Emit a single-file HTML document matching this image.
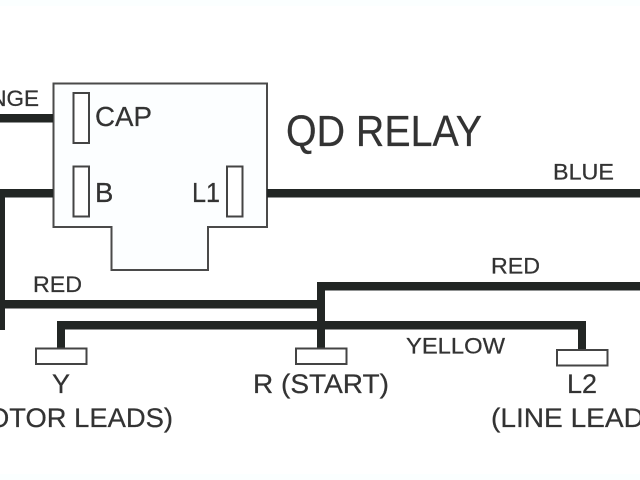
<!DOCTYPE html>
<html>
<head>
<meta charset="utf-8">
<style>
html,body{margin:0;padding:0;background:#fff;width:640px;height:480px;overflow:hidden}
svg{display:block}
text{font-family:"Liberation Sans",sans-serif;fill:#333;stroke:#333;stroke-width:.25}
</style>
</head>
<body>
<svg width="640" height="480" viewBox="0 0 640 480" xmlns="http://www.w3.org/2000/svg">
<rect width="640" height="480" fill="#ffffff"/>
<rect width="640" height="6" fill="#fbffff"/>
<rect y="474" width="640" height="6" fill="#fbffff"/>

<!-- Relay body -->
<path d="M53.5 83.5H267V227H208V270H111.500V227H53.500Z" fill="#fcfeff" stroke="#4a4a4a" stroke-width="2"/>
<rect x="73.500" y="93" width="15.500" height="50" fill="#fff" stroke="#444" stroke-width="2"/>
<rect x="73.500" y="166.500" width="15.500" height="50" fill="#fff" stroke="#444" stroke-width="2"/>
<rect x="227" y="166.500" width="15.500" height="50" fill="#fff" stroke="#444" stroke-width="2"/>

<!-- Wires -->
<g fill="#222624">
<rect x="0" y="114" width="53" height="8.500"/>
<rect x="0" y="189" width="53" height="8.500"/>
<rect x="0" y="189" width="5" height="141"/>
<rect x="267" y="189" width="373" height="8.500"/>
<rect x="0" y="300" width="320" height="8.500"/>
<rect x="317" y="282" width="323" height="8.500"/>
<rect x="317" y="282" width="8" height="67"/>
<rect x="57" y="321" width="529" height="8.500"/>
<rect x="57" y="321" width="8" height="28"/>
<rect x="578" y="321" width="8" height="30"/>
</g>

<!-- Terminals -->
<rect x="36" y="348.500" width="50.500" height="15.500" fill="#fff" stroke="#444" stroke-width="2"/>
<rect x="296" y="348.500" width="50.500" height="15.500" fill="#fff" stroke="#444" stroke-width="2"/>
<rect x="557" y="350" width="50.500" height="15.500" fill="#fff" stroke="#444" stroke-width="2"/>

<!-- Labels -->
<text x="39" y="106" font-size="22.500" text-anchor="end">NGE</text>
<text x="95" y="126" font-size="27.500" textLength="57" lengthAdjust="spacingAndGlyphs">CAP</text>
<text x="95" y="202" font-size="27.500">B</text>
<text x="192" y="202" font-size="27.500" textLength="28" lengthAdjust="spacingAndGlyphs">L1</text>
<text x="286" y="146" font-size="44" fill="#2a2a2a" stroke="none" textLength="196" lengthAdjust="spacingAndGlyphs">QD RELAY</text>
<text x="553" y="179.500" font-size="22.500" textLength="61" lengthAdjust="spacingAndGlyphs">BLUE</text>
<text x="33" y="292" font-size="22" textLength="49" lengthAdjust="spacingAndGlyphs">RED</text>
<text x="491" y="273.500" font-size="22" textLength="49" lengthAdjust="spacingAndGlyphs">RED</text>
<text x="406" y="353.500" font-size="22" textLength="99" lengthAdjust="spacingAndGlyphs">YELLOW</text>
<text x="52" y="393" font-size="27">Y</text>
<text x="253" y="393" font-size="27" textLength="136" lengthAdjust="spacingAndGlyphs">R (START)</text>
<text x="567" y="393" font-size="27" textLength="30" lengthAdjust="spacingAndGlyphs">L2</text>
<text x="-12" y="427" font-size="27" textLength="185" lengthAdjust="spacingAndGlyphs">OTOR LEADS)</text>
<text x="491" y="427" font-size="27" textLength="181" lengthAdjust="spacingAndGlyphs">(LINE LEADS)</text>
</svg>
</body>
</html>
